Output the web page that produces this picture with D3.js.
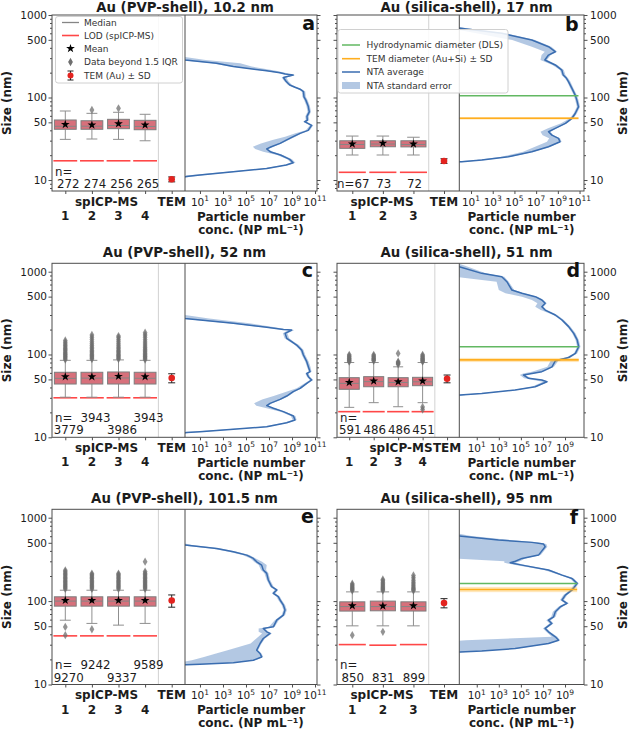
<!DOCTYPE html>
<html><head><meta charset="utf-8">
<script src="https://cdn.jsdelivr.net/npm/d3@7"></script>
<style>body{margin:0;background:#fff}svg{display:block}</style>
</head><body>
<script>
// ================= DATA =================
const titles = ["Au (PVP-shell), 10.2 nm","Au (silica-shell), 17 nm","Au (PVP-shell), 52 nm","Au (silica-shell), 51 nm","Au (PVP-shell), 101.5 nm","Au (silica-shell), 95 nm"];
const panelLetters = ["a","b","c","d","e","f"];
const yMajorTicks = [10, 50, 100, 500, 1000];
const yMinorTicks = [8, 9, 20, 30, 40, 60, 70, 80, 90, 200, 300, 400, 600, 700, 800, 900];
const boxLabel = "spICP-MS", temLabel = "TEM";
const ntaLabel1 = "Particle number", ntaLabel2 = "conc. (NP mL\u207B\u00B9)";
const legendA = ["Median","LOD (spICP-MS)","Mean","Data beyond 1.5 IQR","TEM (Au) \u00B1 SD"];
const legendB = ["Hydrodynamic diameter (DLS)","TEM diameter (Au+Si) \u00B1 SD","NTA average","NTA standard error"];

// ---- panel a ----
const boxA_whiskLo = [31.1, 31.4, 31.1, 29.9];
const boxA_q1 = [41.2, 41.2, 41.9, 40.7];
const boxA_median = [44.8, 44.9, 45.8, 44.6];
const boxA_q3 = [53.4, 52.3, 54.4, 52.9];
const boxA_whiskHi = [68.6, 64.3, 66.2, 62.6];
const boxA_mean = [47.1, 46.4, 48.1, 46.4];
const boxA_lod = [17.1, 17.1, 17.1, 17.1];
const boxA_outliers = [[], [70.5], [73.9], []];
const boxA_n = [272, 274, 256, 265];
const temA = [10.2, 0.7];
const ntaA_size = [310,285,260,237,211,200,193,187,175,156,142,133,126,118,102,93,79,67,59,53,51,46,40,36.8,33.5,30.5,27.8,25.3,23.8,22,20.1,17.8,16.2,15.2,13.8,12.6,11.5,11.0,10.5];
const ntaA_logMean = [-2,-0.3,2.45,3.9,6.8,7.96,8.4,9.1,8.25,8.5,8.8,9.26,9.7,9.99,10.04,10.2,10.4,10.5,10.3,10.33,10.1,10.7,10.4,9.7,9.1,8.5,7.96,7.2,6.8,7.1,8.0,8.8,9.1,8.5,6.8,3.9,1.0,-0.2,-2];
const ntaA_logLo = [-2,-0.8,2.0,3.6,6.5,7.7,8.2,8.9,8.1,8.35,8.65,9.1,9.55,9.85,9.9,10.05,10.25,10.35,10.15,10.2,9.95,10.55,10.2,9.3,8.4,7.3,6.3,5.6,5.8,6.5,7.7,8.6,8.9,8.3,6.4,3.3,0.3,-1,-2];
const ntaA_logHi = [-0.3,1.5,4.5,5.5,7.6,8.4,8.7,9.3,8.5,8.7,9.0,9.45,9.85,10.15,10.2,10.35,10.55,10.65,10.45,10.5,10.25,10.85,10.55,9.85,9.3,8.7,8.1,7.35,6.95,7.3,8.2,9.0,9.3,8.7,7.0,4.2,1.4,0.3,-0.5];

// ---- panel b ----
const boxB_whiskLo = [20.1, 20.1, 20.1];
const boxB_q1 = [24.2, 25.3, 25.2];
const boxB_median = [27.0, 27.3, 27.0];
const boxB_q3 = [29.9, 29.9, 29.9];
const boxB_whiskHi = [34.1, 34.1, 33.0];
const boxB_mean = [27.3, 27.9, 27.3];
const boxB_lod = [12.4, 12.4, 12.4];
const boxB_outliers = [[], [], []];
const boxB_n = [67, 73, 72];
const temB = [17, 1.1];
const dlsB = 105;
const temSiB = [56, 2];
const ntaB_size = [720,689,600,497,413,359,327,285,248,215,187,171,156,129,107,93,77,64,56,48.6,42.3,38.5,35,32,29.1,25.3,22,19.2,17.5,16.7,16];
const ntaB_logMean = [-2,0,3.84,6.6,8.14,8.76,8.14,7.8,8.76,9.37,9.5,9.8,9.98,10.3,10.6,10.75,10.9,10.6,10.3,9.7,8.76,8.14,8.45,9.06,9.2,8.14,6.6,4.45,2.0,0.15,-2];
const ntaB_logLo = [-2,-1,1.5,4.8,6.6,7.8,7.5,7.4,8.5,9.2,9.35,9.65,9.85,10.15,10.45,10.6,10.75,10.45,10.1,9.3,8.1,7.4,7.6,8.2,8.0,6.9,5.8,3.8,1.5,-0.5,-2];
const ntaB_logHi = [-0.1,0.6,4.2,6.9,8.4,8.95,8.35,8.0,8.95,9.55,9.7,9.95,10.15,10.45,10.75,10.9,11.05,10.75,10.45,9.85,8.9,8.3,8.6,9.2,9.35,8.3,6.8,4.7,2.3,0.5,-0.5];

// ---- panel c ----
const boxC_whiskLo = [30.5, 30.5, 30.5, 30.5];
const boxC_q1 = [44, 44, 44, 44];
const boxC_median = [51.5, 51.8, 52.0, 51.6];
const boxC_q3 = [61, 61, 61.5, 61];
const boxC_whiskHi = [85, 85, 86, 85];
const boxC_mean = [54, 54, 54.5, 54];
const boxC_lod = [30, 30, 30, 30];
const boxC_outliers = [
  [87,90,93,96,99,102,106,110,114,118,123,128,134,141,148],
  [88,91,94,97,100,104,108,112,117,122,128,135,143,152,162,172],
  [88,91,94,97,100,104,108,112,117,122,128,135,143,151,160,167],
  [87,90,93,96,99,103,107,111,116,121,127,134,142,151,161,172,183]];
const boxC_n = [3779, 3943, 3986, 3943];
const temC = [52, 6.5];
const ntaC_size = [300,273,238,213,201,197,180,157,143,130,113,98.6,81.9,71.3,62,59,54,49.2,44.8,39,35.6,31.5,28.7,25.7,24.1,22.4,20.4,18.1,16.2,15,13.4,12.5,11.7,11.4,11];
const ntaC_logMean = [-2,-0.3,3.9,6.8,8.25,8.97,8.4,8.54,8.97,9.4,9.84,9.99,10.28,10.42,10.57,10.28,10.42,10.7,10.28,9.7,9.1,8.54,7.96,7.09,6.8,7.38,8.25,9.12,9.26,8.54,6.8,3.9,1.0,-0.16,-2];
const ntaC_logLo = [-2,-0.8,3.5,6.5,8.0,8.7,8.2,8.35,8.8,9.25,9.7,9.85,10.15,10.3,10.45,10.15,10.3,10.55,10.1,9.4,8.5,7.4,6.4,5.7,5.9,6.8,8.0,8.9,9.05,8.3,6.4,3.3,0.3,-1,-2];
const ntaC_logHi = [-0.3,1.8,5.3,7.5,8.6,9.2,8.6,8.75,9.15,9.6,10.0,10.15,10.45,10.6,10.7,10.45,10.55,10.85,10.4,9.85,9.25,8.7,8.1,7.25,6.95,7.55,8.4,9.3,9.4,8.7,7.0,4.2,1.4,0.3,-0.5];

// ---- panel d ----
const boxD_whiskLo = [23, 26.2, 23.4, 26.2];
const boxD_q1 = [38, 40.8, 40.8, 42];
const boxD_median = [44.8, 47, 46, 46.8];
const boxD_q3 = [52.5, 54, 52.5, 53];
const boxD_whiskHi = [80, 80, 71, 80];
const boxD_mean = [46, 47.9, 46.8, 47.9];
const boxD_lod = [20.4, 20.4, 20.4, 20.4];
const boxD_outliers = [
  [82,84,86,88,90,93,96,99],
  [84,86,88,90,93,96,99],
  [76,78,80,82,103],
  [82,84,86,88,90,93,96,99,23.2,21.6]];
const boxD_n = [591, 486, 486, 451];
const temD = [51, 5.5];
const dlsD = 124;
const temSiD = [86, 5];
const ntaD_size = [1250,1150,955,870,757,601,548,499,455,415,378,344,300,261,217,180,150,124,103,92,84,71,62,59,56.5,51.5,49.2,46.9,40.8,37.2,33.9,32.4,31];
const ntaD_logMean = [-3,-0.58,1.45,3.27,3.73,4.18,5.09,6.3,6.9,7.2,6.9,7.2,8.12,8.73,9.33,9.79,10.1,10.24,9.94,9.33,8.12,7.82,6.9,6.0,5.24,5.7,6.9,7.36,6.3,4.48,1.45,-0.5,-3];
const ntaD_logLo = [-3,-3,-3,-1,2.8,3.0,3.6,5.1,6.0,6.5,6.3,6.8,7.95,8.6,9.2,9.65,9.95,10.1,9.8,9.1,7.7,7.4,6.0,5.2,4.9,5.3,6.1,7.0,6.0,4.2,1.0,-1,-3];
const ntaD_logHi = [-0.58,0.2,1.8,3.5,3.9,4.4,5.3,6.5,7.05,7.35,7.05,7.35,8.3,8.9,9.5,9.95,10.25,10.4,10.1,9.5,8.4,8.0,7.05,6.2,5.4,5.9,7.05,7.5,6.45,4.65,1.7,0,-0.8];

// ---- panel e ----
const boxE_whiskLo = [59, 54, 51.5, 54];
const boxE_q1 = [87, 87, 87, 87];
const boxE_median = [100, 100, 100, 100];
const boxE_q3 = [112.6, 112.6, 112.6, 112.6];
const boxE_whiskHi = [135, 135, 135, 135];
const boxE_mean = [102, 102, 102, 102];
const boxE_lod = [38.3, 38.3, 38.3, 38.3];
const boxE_outliers = [
  [140,145,150,155,160,166,172,178,185,192,200,208,216,225,234,49,39],
  [140,145,150,155,160,166,172,178,185,192,200,207,214,46],
  [140,145,150,155,160,166,172,178,185,192,200,207,214],
  [140,145,150,155,160,166,172,178,185,192,200,208,216,226,297]];
const boxE_n = [9270, 9242, 9337, 9589];
const temE = [101.5, 17];
const ntaE_size = [490,470,428,391,356,325,296,270,236,215,179,149,136,124,113,103,89.5,78,68,59,49.2,47,42.8,41,35.6,31,25.8,23.5,21.4,19.5,18.2,17.5,17.3,17];
const ntaE_logMean = [-2,-0.3,2.45,3.9,5.06,5.64,5.93,6.36,6.5,6.8,6.94,7.23,7.67,7.38,7.81,7.96,8.25,8.39,8.25,7.67,7.38,6.5,6.8,7.09,6.5,6.22,5.93,6.22,6.36,5.64,3.9,1.0,-0.16,-2];
const ntaE_logLo = [-2,-0.8,2.0,3.5,4.7,5.4,5.7,6.1,6.3,6.6,6.8,7.1,7.5,7.25,7.65,7.8,8.1,8.25,8.1,7.5,7.0,6.1,6.1,6.4,5.9,5.4,3.4,2.4,1.35,0.3,-1,-2,-2,-2];
const ntaE_logHi = [-0.3,0.3,2.8,4.2,5.3,5.85,6.4,6.8,6.75,6.95,7.1,7.4,7.8,7.55,7.95,8.1,8.4,8.55,8.4,7.85,7.5,6.65,6.95,7.25,6.65,6.35,6.05,6.35,6.5,5.8,4.1,1.3,0.2,-0.5];

// ---- panel f ----
const boxF_whiskLo = [50.5, 50.5, 50.5];
const boxF_q1 = [75.9, 76.5, 76];
const boxF_median = [86, 86, 86];
const boxF_q3 = [98, 100, 98];
const boxF_whiskHi = [129, 129, 129];
const boxF_mean = [88, 87.5, 88];
const boxF_lod = [30.1, 29.6, 30.1];
const boxF_outliers = [
  [134,138,142,146,151,156,162,39],
  [134,138,142,146,151,156,162,168,175,182,42.8],
  [134,138,142,147,153,160,168,178,190,203]];
const boxF_n = [850, 831, 899];
const temF = [95, 12];
const dlsF = 163;
const temSiF = [138, 10];
const ntaF_size = [640,603,540,506,483,449,356,325,300,288,270,236,205,187,163,136,118,103,94,85.5,74.5,64.9,59,54,47,42.8,37.3,34,31,27,25.3,24.6,24];
const ntaF_logMean = [-3,-0.58,2.97,6.0,7.06,7.2,6.6,5.1,4.5,4.03,5.1,7.5,8.73,9.64,10.1,9.64,9.03,8.73,9.18,8.58,8.12,7.97,7.5,7.8,7.2,7.5,8.12,8.42,7.5,4.48,1.45,-0.5,-3];
const ntaF_logLo = [-3,-3,-3,-3,-3,-3,-3,-1,3.5,3.5,4.5,7.1,8.5,9.45,9.9,9.45,8.85,8.55,9.0,8.4,7.9,7.75,7.3,7.6,7.0,7.3,7.8,0,-3,-3,-3,-3,-3];
const ntaF_logHi = [-0.58,0.5,4.0,6.5,7.3,7.4,6.8,5.4,4.9,4.5,5.4,7.7,8.9,9.8,10.25,9.8,9.2,8.9,9.35,8.75,8.3,8.15,7.7,7.95,7.35,7.65,8.3,8.55,7.65,4.7,1.7,0,-0.8];

// ================= LAYOUT / STYLE =================
const C = {box:"#d7707b", boxEdge:"#7d7d7d", whisk:"#8f8f8f", median:"#858585", lod:"#ff4747",
  out:"#6f6f6f", nta:"#3a6db0", band:"#5686c0", green:"#62b862", orange:"#ffae1f",
  frame:"#4d4d4d", sep:"#d2d2d2", text:"#1c1c1c"};
const FONT = "DejaVu Sans, sans-serif";
const L_ = {
  a:{L:52,R:317,T:15,B:191,div:185,yDom:[7.36,1000],nExp:[-0.3,11.17],tExp:[1,3,5,7,9,11],side:"left",spX:106.5,titleX:185,titleY:12,letX:315,letY:30,nMode:"rows",nOff:3},
  b:{L:337,R:584,T:15,B:191,div:459.3,yDom:[7.36,1000],nExp:[-0.08,11.41],tExp:[1,3,5,7,9,11],side:"right",spX:382,titleX:466.5,titleY:12,letX:578.5,letY:31,nMode:"inline",nOff:1},
  c:{L:52,R:317,T:263.3,B:437.3,div:185,yDom:[10,1263],nExp:[-0.3,11.17],tExp:[1,3,5,7,9,11],side:"left",spX:106.5,titleX:184.5,titleY:256.5,letX:313,letY:277,nMode:"stagger",nOff:3.5},
  d:{L:337,R:584,T:263.3,B:437.3,div:459.3,yDom:[10,1263],nExp:[-0.58,10.72],tExp:[1,3,5,7,9],side:"right",spX:401,titleX:466.5,titleY:256.5,letX:580,letY:277,nMode:"rows",nOff:1},
  e:{L:52,R:317,T:509.3,B:684.5,div:185,yDom:[10,1261],nExp:[-0.3,11.17],tExp:[1,3,5,7,9,11],side:"left",spX:106.5,titleX:184.5,titleY:502.5,letX:314,letY:523,nMode:"stagger",nOff:3.5},
  f:{L:337,R:584,T:509.3,B:684.5,div:459.3,yDom:[10,1261],nExp:[-0.58,10.72],tExp:[1,3,5,7,9],side:"right",spX:382,titleX:466.5,titleY:502.5,letX:578,letY:524,nMode:"rows",nOff:0.5}
};

const panels = [
  {id:"a",wl:boxA_whiskLo,q1:boxA_q1,med:boxA_median,q3:boxA_q3,wh:boxA_whiskHi,mean:boxA_mean,lod:boxA_lod,out:boxA_outliers,n:boxA_n,tem:temA,size:ntaA_size,m:ntaA_logMean,lo:ntaA_logLo,hi:ntaA_logHi},
  {id:"b",wl:boxB_whiskLo,q1:boxB_q1,med:boxB_median,q3:boxB_q3,wh:boxB_whiskHi,mean:boxB_mean,lod:boxB_lod,out:boxB_outliers,n:boxB_n,tem:temB,size:ntaB_size,m:ntaB_logMean,lo:ntaB_logLo,hi:ntaB_logHi,dls:dlsB,temSi:temSiB},
  {id:"c",wl:boxC_whiskLo,q1:boxC_q1,med:boxC_median,q3:boxC_q3,wh:boxC_whiskHi,mean:boxC_mean,lod:boxC_lod,out:boxC_outliers,n:boxC_n,tem:temC,size:ntaC_size,m:ntaC_logMean,lo:ntaC_logLo,hi:ntaC_logHi},
  {id:"d",wl:boxD_whiskLo,q1:boxD_q1,med:boxD_median,q3:boxD_q3,wh:boxD_whiskHi,mean:boxD_mean,lod:boxD_lod,out:boxD_outliers,n:boxD_n,tem:temD,size:ntaD_size,m:ntaD_logMean,lo:ntaD_logLo,hi:ntaD_logHi,dls:dlsD,temSi:temSiD},
  {id:"e",wl:boxE_whiskLo,q1:boxE_q1,med:boxE_median,q3:boxE_q3,wh:boxE_whiskHi,mean:boxE_mean,lod:boxE_lod,out:boxE_outliers,n:boxE_n,tem:temE,size:ntaE_size,m:ntaE_logMean,lo:ntaE_logLo,hi:ntaE_logHi},
  {id:"f",wl:boxF_whiskLo,q1:boxF_q1,med:boxF_median,q3:boxF_q3,wh:boxF_whiskHi,mean:boxF_mean,lod:boxF_lod,out:boxF_outliers,n:boxF_n,tem:temF,size:ntaF_size,m:ntaF_logMean,lo:ntaF_logLo,hi:ntaF_logHi,dls:dlsF,temSi:temSiF}
];

// ================= DRAW =================
const svg = d3.select("body").append("svg").attr("width",634).attr("height",730)
  .style("font-family",FONT).style("background","#fff");
const star = d3.symbol().type(d3.symbolStar).size(24);
const diamond = d3.symbol().type(d3.symbolDiamond).size(20);

function txt(g, x, y, s, o) {
  o = o || {};
  return g.append("text").attr("x",x).attr("y",y).text(s)
    .attr("font-size",o.size||12).attr("font-weight",o.bold?"bold":"normal")
    .attr("text-anchor",o.anchor||"start").attr("fill",C.text);
}

function drawPanel(P, idx) {
  const Ly = L_[P.id];
  const g = svg.append("g");
  const y = d3.scaleLog().domain(Ly.yDom).range([Ly.B, Ly.T]);
  const nb = P.q1.length;
  const xb = d3.scaleLinear().domain([0.5, nb + 1.5]).range([Ly.L, Ly.div]);
  const xn = d3.scaleLog().domain([10 ** Ly.nExp[0], 10 ** Ly.nExp[1]]).range([Ly.div, Ly.R]);
  const step = xb(2) - xb(1), bw = step * 0.82;

  // ---- NTA ----
  const cid = "clip-" + P.id;
  svg.append("clipPath").attr("id",cid).append("rect")
    .attr("x",Ly.div).attr("y",Ly.T).attr("width",Ly.R-Ly.div).attr("height",Ly.B-Ly.T);
  const gn = g.append("g").attr("clip-path",`url(#${cid})`);
  const pts = P.size.map((s,i)=>({s, m:P.m[i], lo:P.lo[i], hi:P.hi[i]}));
  gn.append("path").datum(pts)
    .attr("d", d3.area().y(d=>y(d.s)).x0(d=>xn(10**d.lo)).x1(d=>xn(10**d.hi)))
    .attr("fill",C.band).attr("fill-opacity",0.45).attr("stroke","none");
  gn.append("path").datum(pts)
    .attr("d", d3.line().y(d=>y(d.s)).x(d=>xn(10**d.m)))
    .attr("fill","none").attr("stroke",C.nta).attr("stroke-width",1.5).attr("stroke-linejoin","round");

  if (P.dls) {
    const xEnd = xn(10 ** d3.max(P.m));
    gn.append("rect").attr("x",Ly.div).attr("width",xEnd-Ly.div)
      .attr("y",y(P.temSi[0]+P.temSi[1])).attr("height",y(P.temSi[0]-P.temSi[1])-y(P.temSi[0]+P.temSi[1]))
      .attr("fill",C.orange).attr("fill-opacity",0.3);
    gn.append("line").attr("x1",Ly.div).attr("x2",xEnd).attr("y1",y(P.temSi[0])).attr("y2",y(P.temSi[0]))
      .attr("stroke",C.orange).attr("stroke-width",1.6);
    gn.append("line").attr("x1",Ly.div).attr("x2",xEnd).attr("y1",y(P.dls)).attr("y2",y(P.dls))
      .attr("stroke",C.green).attr("stroke-width",1.5);
  }

  // ---- boxes ----
  const gb = g.append("g");
  for (let i = 0; i < nb; i++) {
    const cx = xb(i + 1);
    gb.append("line").attr("x1",cx-bw/2-1).attr("x2",cx+bw/2+1).attr("y1",y(P.lod[i])).attr("y2",y(P.lod[i]))
      .attr("stroke",C.lod).attr("stroke-width",1.6);
    [[P.q3[i],P.wh[i]],[P.q1[i],P.wl[i]]].forEach(([a,b])=>{
      gb.append("line").attr("x1",cx).attr("x2",cx).attr("y1",y(a)).attr("y2",y(b)).attr("stroke",C.whisk).attr("stroke-width",1);
      gb.append("line").attr("x1",cx-bw/4).attr("x2",cx+bw/4).attr("y1",y(b)).attr("y2",y(b)).attr("stroke",C.whisk).attr("stroke-width",1);
    });
    gb.selectAll(null).data(P.out[i]).join("path").attr("d",diamond)
      .attr("transform",d=>`translate(${cx},${y(d)})`).attr("fill",C.out).attr("fill-opacity",0.75);
    gb.append("rect").attr("x",cx-bw/2).attr("width",bw).attr("y",y(P.q3[i])).attr("height",y(P.q1[i])-y(P.q3[i]))
      .attr("fill",C.box).attr("stroke",C.boxEdge).attr("stroke-width",1);
    gb.append("line").attr("x1",cx-bw/2).attr("x2",cx+bw/2).attr("y1",y(P.med[i])).attr("y2",y(P.med[i]))
      .attr("stroke",C.median).attr("stroke-width",1);
    gb.append("path").attr("d",star).attr("transform",`translate(${cx},${y(P.mean[i])})`).attr("fill","#000");
  }
  // TEM
  const tx = xb(nb + 1);
  const t0 = y(P.tem[0]+P.tem[1]), t1 = y(P.tem[0]-P.tem[1]);
  gb.append("line").attr("x1",tx).attr("x2",tx).attr("y1",t0).attr("y2",t1).attr("stroke","#222").attr("stroke-width",1);
  [t0,t1].forEach(v=>gb.append("line").attr("x1",tx-3.5).attr("x2",tx+3.5).attr("y1",v).attr("y2",v).attr("stroke","#222").attr("stroke-width",1));
  gb.append("circle").attr("cx",tx).attr("cy",y(P.tem[0])).attr("r",3.3).attr("fill","#e3231f");

  // ---- frames ----
  g.append("line").attr("x1",xb(nb+0.5)).attr("x2",xb(nb+0.5)).attr("y1",Ly.T).attr("y2",Ly.B).attr("stroke",C.sep).attr("stroke-width",1);
  g.append("line").attr("x1",Ly.div).attr("x2",Ly.div).attr("y1",Ly.T).attr("y2",Ly.B).attr("stroke",C.frame).attr("stroke-width",1);
  g.append("rect").attr("x",Ly.L).attr("y",Ly.T).attr("width",Ly.R-Ly.L).attr("height",Ly.B-Ly.T)
    .attr("fill","none").attr("stroke",C.frame).attr("stroke-width",1);

  // ---- y axes ----
  const major = yMajorTicks.filter(v=>v>=Ly.yDom[0]&&v<=Ly.yDom[1]);
  const minor = yMinorTicks.filter(v=>v>=Ly.yDom[0]&&v<=Ly.yDom[1]);
  function yAx(gen, x, labelled) {
    const a = g.append("g").attr("transform",`translate(${x},0)`)
      .call(gen(y).tickValues(major).tickSize(3.5).tickPadding(labelled && gen===d3.axisRight ? 2.5 : 1.5)
        .tickFormat(labelled ? d3.format("d") : ""));
    a.attr("font-family",null).attr("font-size",null);
    a.select(".domain").remove();
    a.selectAll("line").attr("stroke",C.frame);
    a.selectAll("text").attr("font-size",10.5).attr("fill",C.text);
    const m = g.append("g").attr("transform",`translate(${x},0)`)
      .call(gen(y).tickValues(minor).tickSize(2).tickFormat(""));
    m.select(".domain").remove();
    m.selectAll("line").attr("stroke",C.frame);
  }
  if (Ly.side === "left") { yAx(d3.axisLeft, Ly.L, true); yAx(d3.axisRight, Ly.R, false); }
  else { yAx(d3.axisLeft, Ly.L, false); yAx(d3.axisRight, Ly.R, true); }
  const yc = (Ly.T + Ly.B) / 2;
  const ylx = Ly.side === "left" ? 11 : 627;
  g.append("text").attr("transform",`translate(${ylx},${yc}) rotate(-90)`).attr("text-anchor","middle")
    .attr("font-size",12).attr("font-weight","bold").attr("fill",C.text).text("Size (nm)");

  // ---- box x axis ----
  const bxA = g.append("g").attr("transform",`translate(0,${Ly.B})`)
    .call(d3.axisBottom(xb).tickValues(d3.range(1, nb + 2)).tickSize(3).tickFormat(""));
  bxA.select(".domain").remove(); bxA.selectAll("line").attr("stroke",C.frame);
  for (let i = 0; i < nb; i++) txt(g, xb(i+1), Ly.B + 29, String(i+1), {bold:true, anchor:"middle"});
  txt(g, xb(nb+1), Ly.B + 14.5, temLabel, {bold:true, anchor:"middle"});
  txt(g, Ly.spX, Ly.B + 14.5, boxLabel, {bold:true, anchor:"middle"});

  // ---- NTA x axis ----
  const ntaTicks = Ly.tExp.map(e => 10 ** e);
  const nxA = g.append("g").attr("transform",`translate(0,${Ly.B})`)
    .call(d3.axisBottom(xn).tickValues(ntaTicks).tickSize(3).tickFormat(""));
  nxA.select(".domain").remove(); nxA.selectAll("line").attr("stroke",C.frame);
  g.selectAll(null).data(Ly.tExp).join("text")
    .attr("x", e => xn(10 ** e)).attr("y", Ly.B + 14.5).attr("text-anchor","middle")
    .attr("font-size",10.5).attr("fill",C.text)
    .each(function(e){ const t=d3.select(this);
      t.append("tspan").text("10");
      t.append("tspan").attr("dy",-4.5).attr("font-size",7.5).text(e); });
  const nc = (Ly.div + Ly.R) / 2;
  txt(g, nc, Ly.B + 29.5, ntaLabel1, {bold:true, anchor:"middle"});
  txt(g, nc, Ly.B + 42.5, ntaLabel2, {bold:true, anchor:"middle"});

  // ---- n labels ----
  const r2 = Ly.B - 3, r1 = Ly.B - 15.5;
  const nsz = {size:11.8};
  if (Ly.nMode === "inline") {
    P.n.forEach((v,i)=>txt(g, xb(i+1)+Ly.nOff, r2, (i===0?"n=":"")+v, {size:11.8, anchor:"middle"}));
  } else {
    txt(g, Ly.L + 3, r1, "n=", nsz);
    P.n.forEach((v,i)=>{
      const row = (Ly.nMode === "stagger" && i % 2 === 1) ? r1 : r2;
      txt(g, xb(i+1)+Ly.nOff, row, String(v), {size:11.8, anchor:"middle"});
    });
  }

  // ---- titles & letters ----
  txt(g, Ly.titleX, Ly.titleY, titles[idx], {bold:true, size:13.3, anchor:"middle"});
  txt(g, Ly.letX, Ly.letY, panelLetters[idx], {bold:true, size:19, anchor:"end"}).attr("fill","#111");
}

panels.forEach(drawPanel);

// ---- legend a ----
(function(){
  const g = svg.append("g");
  g.append("rect").attr("x",55.5).attr("y",16.5).attr("width",127).attr("height",66.5).attr("rx",2.5)
    .attr("fill","#fff").attr("fill-opacity",0.85).attr("stroke","#d0d0d0");
  const ys = [22.5, 35.5, 48.5, 62, 75.5];
  const hx0 = 62, hx1 = 79, hc = 70.5, tx = 84;
  g.append("line").attr("x1",hx0).attr("x2",hx1).attr("y1",ys[0]).attr("y2",ys[0]).attr("stroke",C.median).attr("stroke-width",1.3);
  g.append("line").attr("x1",hx0).attr("x2",hx1).attr("y1",ys[1]).attr("y2",ys[1]).attr("stroke",C.lod).attr("stroke-width",1.6);
  g.append("path").attr("d",star).attr("transform",`translate(${hc},${ys[2]})`).attr("fill","#000");
  g.append("path").attr("d",diamond).attr("transform",`translate(${hc},${ys[3]})`).attr("fill",C.out);
  g.append("line").attr("x1",hc).attr("x2",hc).attr("y1",ys[4]-4.5).attr("y2",ys[4]+4.5).attr("stroke","#222");
  [ys[4]-4.5, ys[4]+4.5].forEach(v=>g.append("line").attr("x1",hc-3).attr("x2",hc+3).attr("y1",v).attr("y2",v).attr("stroke","#222"));
  g.append("circle").attr("cx",hc).attr("cy",ys[4]).attr("r",3).attr("fill","#e3231f");
  legendA.forEach((s,i)=>txt(g, tx, ys[i]+3.2, s, {size:9}).attr("fill","#333"));
})();

// ---- legend b ----
(function(){
  const g = svg.append("g");
  g.append("rect").attr("x",338).attr("y",29.5).attr("width",170).attr("height",63.5).attr("rx",2.5)
    .attr("fill","#fff").attr("fill-opacity",0.85).attr("stroke","#d0d0d0");
  const ys = [45, 58.7, 72, 85.5];
  const hx0 = 342, hx1 = 360, tx = 366.5;
  g.append("line").attr("x1",hx0).attr("x2",hx1).attr("y1",ys[0]).attr("y2",ys[0]).attr("stroke",C.green).attr("stroke-width",1.5);
  g.append("line").attr("x1",hx0).attr("x2",hx1).attr("y1",ys[1]).attr("y2",ys[1]).attr("stroke",C.orange).attr("stroke-width",1.6);
  g.append("line").attr("x1",hx0).attr("x2",hx1).attr("y1",ys[2]).attr("y2",ys[2]).attr("stroke",C.nta).attr("stroke-width",1.5);
  g.append("rect").attr("x",hx0).attr("width",hx1-hx0).attr("y",ys[3]-3.5).attr("height",7).attr("fill",C.band).attr("fill-opacity",0.45);
  legendB.forEach((s,i)=>txt(g, tx, ys[i]+3.2, s, {size:9}).attr("fill","#333"));
})();
</script>
</body></html>
